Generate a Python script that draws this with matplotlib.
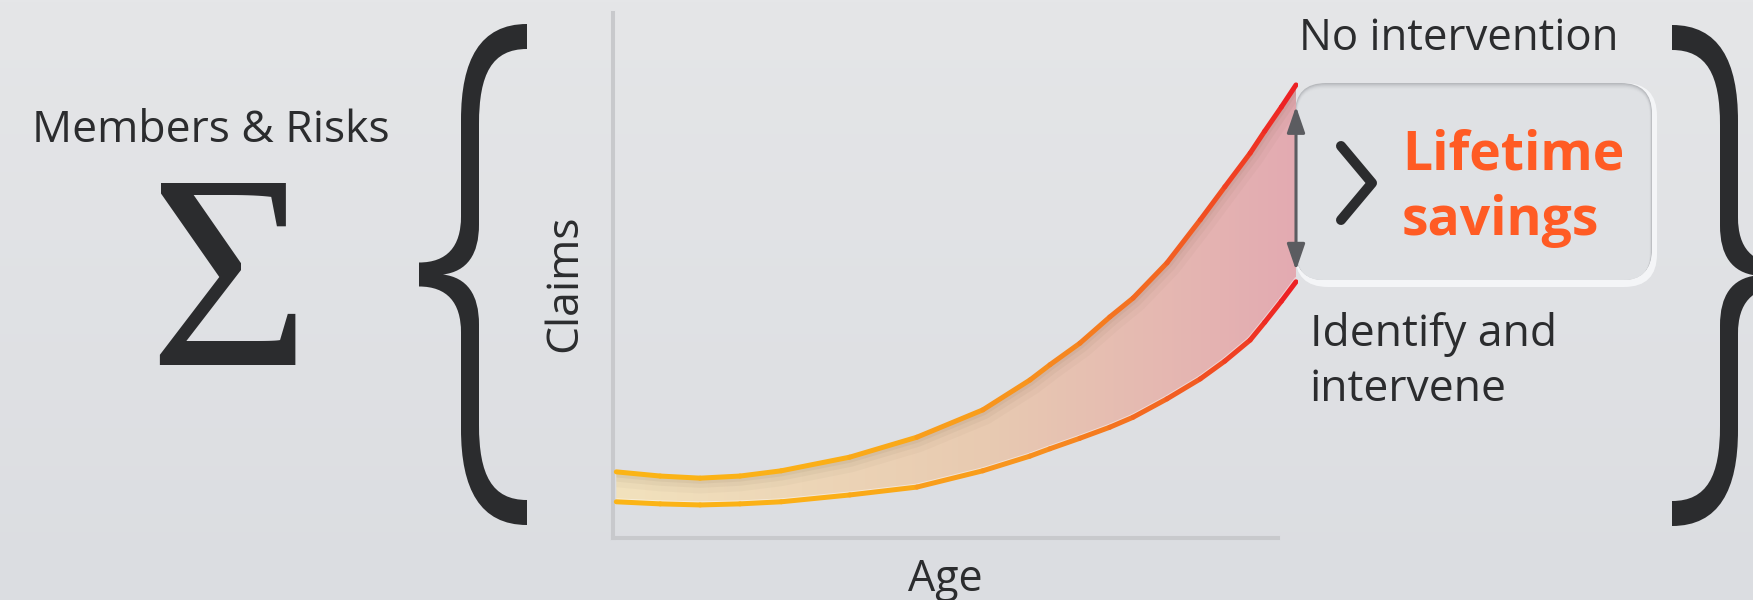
import numpy as np
import matplotlib
matplotlib.use("Agg")
import matplotlib.pyplot as plt
from matplotlib.path import Path
from matplotlib.patches import PathPatch, FancyBboxPatch
from matplotlib.collections import LineCollection
from matplotlib.colors import LinearSegmentedColormap

plt.rcParams['font.family'] = ['Open Sans', 'DejaVu Sans']

# dane krzywych (wiek vs roszczenia, jednostki umowne)
age = [0.5, 7.1, 13.1, 19.1, 25.3, 35.6, 45.7, 55.6, 62.7, 65.7, 70.2, 74.7, 78.2,
       83.3, 88.3, 92.0, 95.8, 98.0, 100.5, 102.7]
claims_no_intervention = [12.6, 11.8, 11.4, 11.8, 12.8, 15.4, 19.2, 24.4, 30.1, 33.0, 37.1,
                          42.1, 45.7, 52.4, 60.6, 66.9, 73.3, 77.5, 82.1, 86.3]
claims_intervene = [6.9, 6.5, 6.3, 6.5, 6.9, 8.2, 9.7, 12.8, 15.6, 17.0, 19.0,
                    21.1, 23.0, 26.5, 30.3, 33.7, 37.7, 41.1, 45.1, 48.8]

label_top = "No intervention"
label_bottom = "Identify and\nintervene"
label_savings = "Lifetime\nsavings"
label_left = "Members & Risks"

dark = '#2b2c2e'
orange = '#ff5b24'

fig = plt.figure(figsize=(17.53, 6), dpi=100)

# tlo - os w pikselach
bg = fig.add_axes([0, 0, 1, 1], zorder=0)
bg.set_xlim(0, 1753)
bg.set_ylim(600, 0)
bg.axis('off')
top_c = np.array([229, 230, 232]) / 255
bot_c = np.array([219, 221, 225]) / 255
t = np.linspace(0, 1, 300)[:, None, None]
grad = top_c * (1 - t) + bot_c * t
bg.imshow(grad, extent=(0, 1753, 600, 0), aspect='auto', zorder=0)


def brace(ax, xe, d, top, bot):
    mid = (top + bot) / 2
    verts = [
        (xe, top),
        (xe + d * 47, top), (xe + d * 66, top + 36), (xe + d * 66, top + 96),
        (xe + d * 66, mid - 58),
        (xe + d * 66, mid - 28), (xe + d * 80, mid - 12), (xe + d * 108, mid - 12),
        (xe + d * 108, mid + 12),
        (xe + d * 80, mid + 12), (xe + d * 66, mid + 28), (xe + d * 66, mid + 58),
        (xe + d * 66, bot - 96),
        (xe + d * 66, bot - 36), (xe + d * 47, bot), (xe, bot),
        (xe, bot - 25),
        (xe + d * 35, bot - 25), (xe + d * 48, bot - 50), (xe + d * 48, bot - 100),
        (xe + d * 48, mid + 50),
        (xe + d * 48, mid + 20), (xe + d * 60, mid + 3), (xe + d * 84, mid),
        (xe + d * 60, mid - 3), (xe + d * 48, mid - 20), (xe + d * 48, mid - 50),
        (xe + d * 48, top + 100),
        (xe + d * 48, top + 50), (xe + d * 35, top + 25), (xe, top + 25),
        (xe, top),
    ]
    codes = ([Path.MOVETO] + [Path.CURVE4] * 3 + [Path.LINETO] + [Path.CURVE4] * 3 +
             [Path.LINETO] + [Path.CURVE4] * 3 + [Path.LINETO] + [Path.CURVE4] * 3 +
             [Path.LINETO] + [Path.CURVE4] * 3 + [Path.LINETO] + [Path.CURVE4] * 6 +
             [Path.LINETO] + [Path.CURVE4] * 3 + [Path.CLOSEPOLY])
    ax.add_patch(PathPatch(Path(verts, codes), facecolor=dark, edgecolor='none', zorder=3))


brace(bg, 527, -1, 24, 525)
brace(bg, 1672, 1, 25, 526)

# teksty po lewej
bg.text(211, 142, label_left, fontsize=32, color=dark, ha='center', va='baseline', zorder=4)
bg.text(229, 365, "Σ", fontsize=200, color=dark, ha='center', va='baseline',
        family=['Liberation Serif', 'DejaVu Serif'], zorder=4)
bg.text(565, 283, "Claims", fontsize=32, color=dark, ha='center', va='center',
        rotation=90, zorder=4)
bg.text(945, 591, "Age", fontsize=31, color=dark, ha='center', va='baseline', zorder=4)

# ramka "Lifetime savings"
bx0, bx1, by0, by1 = 1295, 1657, 83, 287
bg.add_patch(FancyBboxPatch((bx0, by0), bx1 - bx0, by1 - by0,
                            boxstyle='round,pad=0,rounding_size=33',
                            facecolor='#f4f5f7', edgecolor='none', zorder=2))
shades = ['#b7b9bd', '#c4c6ca', '#cfd1d5', '#d7d9dc', '#dcdee1', '#dfe1e4']
for i, c in enumerate(shades):
    bg.add_patch(FancyBboxPatch((bx0 + 0.5 * i, by0 + 1.2 * i), bx1 - bx0 - 5 - i,
                                by1 - by0 - 7 - 1.2 * i,
                                boxstyle='round,pad=0,rounding_size=%d' % (31 - i),
                                facecolor=c, edgecolor='none', zorder=2))

bg.plot([1341, 1372, 1341], [146, 183, 220], color=dark, lw=7.2,
        solid_capstyle='round', solid_joinstyle='round', zorder=4)
bg.text(1402, 170, label_savings.split("\n")[0], fontsize=38.5, fontweight='bold',
        color=orange, ha='left', va='baseline', zorder=4)
bg.text(1402, 235, label_savings.split("\n")[1], fontsize=38.5, fontweight='bold',
        color=orange, ha='left', va='baseline', zorder=4)

bg.text(1299, 50, label_top, fontsize=31.5, color=dark, ha='left', va='baseline', zorder=4)
bg.text(1310, 346, label_bottom.split("\n")[0], fontsize=32, color=dark, ha='left',
        va='baseline', zorder=4)
bg.text(1310, 401, label_bottom.split("\n")[1], fontsize=32, color=dark, ha='left',
        va='baseline', zorder=4)

# wykres
ax = fig.add_axes([613 / 1753, 62 / 600, 685 / 1753, 525 / 600], zorder=1)
ax.set_facecolor('none')
ax.set_xlim(0, 103)
ax.set_ylim(0, 100)
ax.set_xticks([])
ax.set_yticks([])
for s in ['top', 'right']:
    ax.spines[s].set_visible(False)
for s in ['left', 'bottom']:
    ax.spines[s].set_color('#c8c9cc')
    ax.spines[s].set_linewidth(2.9)
ax.spines['bottom'].set_bounds(0, 100)

x = np.array(age)
yu = np.array(claims_no_intervention)
yl = np.array(claims_intervene)

poly = ax.fill_between(x, yl, yu, facecolor='none', edgecolor='none')
clip = poly.get_paths()[0]

fill_cmap = LinearSegmentedColormap.from_list(
    'fill', [(0.0, '#f2e2bd'), (0.55, '#e8cab1'), (1.0, '#e3aab2')])
img = ax.imshow(np.linspace(0, 1, 256)[None, :], cmap=fill_cmap, aspect='auto',
                extent=(0, 103, 0, 100), zorder=1)
img.set_clip_path(clip, transform=ax.transData)

# cien pod gorna linia i swiatlo nad dolna
for lw, a in [(22, 0.04), (14, 0.06), (8, 0.07)]:
    ln, = ax.plot(x, yu, color='#6b5a40', lw=lw, alpha=a, solid_capstyle='butt', zorder=2)
    ln.set_clip_path(clip, transform=ax.transData)
ln, = ax.plot(x, yl, color='white', lw=5, alpha=0.45, zorder=2)
ln.set_clip_path(clip, transform=ax.transData)

line_cmap = LinearSegmentedColormap.from_list(
    'line', [(0.0, '#fbb516'), (0.35, '#fbae17'), (0.62, '#f7901e'),
             (0.85, '#f25a22'), (1.0, '#ed1c24')])
for yy in (yu, yl):
    pts = np.column_stack([x, yy])
    segs = np.stack([pts[:-1], pts[1:]], axis=1)
    mids = (x[:-1] + x[1:]) / 2 / 103
    lc = LineCollection(segs, colors=line_cmap(mids), linewidths=3.6,
                        capstyle='round', joinstyle='round', zorder=3)
    ax.add_collection(lc)

ax.annotate('', xy=(102.7, 82.2), xytext=(102.7, 51.0),
            arrowprops=dict(arrowstyle='<|-|>,head_length=1.6,head_width=0.55',
                            mutation_scale=10, color='#5b5c60', lw=2.2,
                            shrinkA=0, shrinkB=0),
            annotation_clip=False, zorder=4)

fig.savefig('out.png', dpi=100)
